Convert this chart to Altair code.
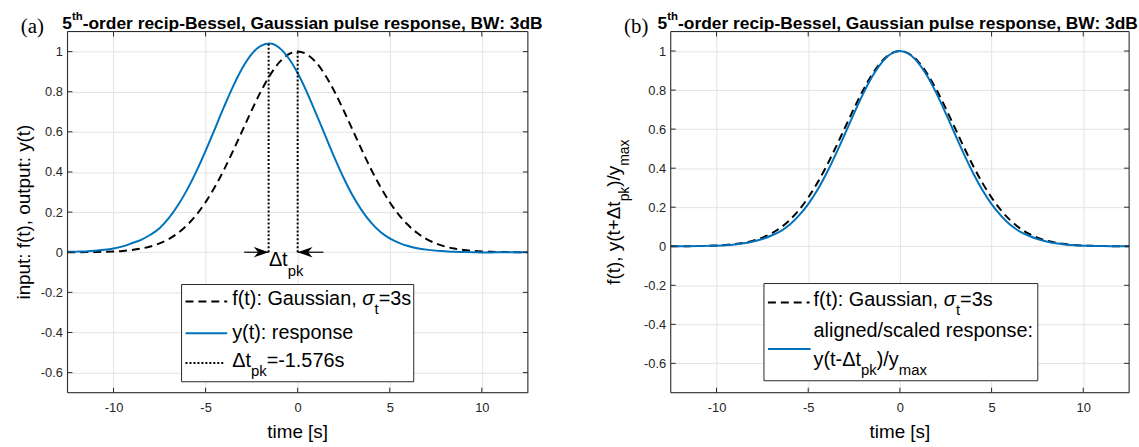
import altair as alt
import pandas as pd

# ---------------- data ----------------
time_s = [-12.5, -12.0, -11.5, -11.0, -10.5, -10.0, -9.5, -9.0, -8.5, -8.0, -7.5, -7.0, -6.5,
          -6.0, -5.5, -5.0, -4.5, -4.0, -3.5, -3.0, -2.5, -2.0, -1.5, -1.0, -0.5, 0.0,
          0.5, 1.0, 1.5, 2.0, 2.5, 3.0, 3.5, 4.0, 4.5, 5.0, 5.5, 6.0, 6.5, 7.0, 7.5,
          8.0, 8.5, 9.0, 9.5, 10.0, 10.5, 11.0, 11.5, 12.0, 12.5]

gauss_in = [0.0002, 0.0003, 0.0006, 0.0012, 0.0022, 0.0039, 0.0066, 0.0111, 0.0181, 0.0286,
            0.0439, 0.0657, 0.0956, 0.1353, 0.1863, 0.2494, 0.3247, 0.4111, 0.5063, 0.6065,
            0.7066, 0.8007, 0.8825, 0.9460, 0.9862, 1.0000, 0.9862, 0.9460, 0.8825, 0.8007,
            0.7066, 0.6065, 0.5063, 0.4111, 0.3247, 0.2494, 0.1863, 0.1353, 0.0956, 0.0657,
            0.0439, 0.0286, 0.0181, 0.0111, 0.0066, 0.0039, 0.0022, 0.0012, 0.0006, 0.0003, 0.0002]

response = [0.002, 0.003, 0.004, 0.007, 0.012, 0.019, 0.029, 0.045, 0.062, 0.087,
            0.120, 0.170, 0.234, 0.312, 0.403, 0.505, 0.614, 0.724, 0.828, 0.918,
            0.987, 1.029, 1.040, 1.019, 0.968, 0.893, 0.798, 0.691, 0.581, 0.472,
            0.370, 0.280, 0.206, 0.146, 0.101, 0.069, 0.047, 0.031, 0.020, 0.013,
            0.008, 0.005, 0.002, 0.001, 0.000, -0.001, -0.001, 0.000, 0.000, 0.000, 0.000]

aligned = [0.0002, 0.0003, 0.0005, 0.001, 0.002, 0.003, 0.005, 0.009, 0.015, 0.024,
           0.037, 0.055, 0.078, 0.111, 0.158, 0.216, 0.288, 0.374, 0.471, 0.575,
           0.681, 0.782, 0.871, 0.940, 0.985, 1.000, 0.985, 0.940, 0.871, 0.782,
           0.681, 0.575, 0.471, 0.374, 0.288, 0.216, 0.158, 0.111, 0.078, 0.055,
           0.037, 0.024, 0.015, 0.009, 0.005, 0.003, 0.002, 0.001, 0.0005, 0.0003, 0.0002]

dt_pk = -1.576          # response peak time
y_max = 1.04            # response peak value
marker_t = [dt_pk, 0.0]
marker_top = [y_max, 1.0]
arrow_tail = [-2.9, 1.4]
arrow_tip = [dt_pk, 0.0]

x_ticks = [-10, -5, 0, 5, 10]
y_ticks = [-0.6, -0.4, -0.2, 0, 0.2, 0.4, 0.6, 0.8, 1]
x_dom = [-12.5, 12.5]
y_dom_a = [-0.7, 1.1]
y_dom_b = [-0.75, 1.1]

TITLE = "-order recip-Bessel, Gaussian pulse response, BW: 3dB"

# ---------------- styling ----------------
BLUE = "#0072BD"
DARK = "#262626"
GRID = "#e3e3e3"
FONT = "Liberation Sans"
H = 364

W_REG = {' ': 278, '(': 333, ')': 333, '+': 584, ',': 278, '-': 333, '.': 278, '/': 278,
         ':': 278, '=': 584, '[': 278, ']': 278, 'G': 778, 'Δ': 668, 'σ': 617,
         'a': 556, 'b': 556, 'c': 500, 'd': 556, 'e': 556, 'f': 278, 'g': 556, 'h': 556,
         'i': 222, 'j': 222, 'k': 500, 'l': 222, 'm': 833, 'n': 556, 'o': 556, 'p': 556,
         'q': 556, 'r': 333, 's': 500, 't': 278, 'u': 556, 'v': 500, 'w': 722, 'x': 500,
         'y': 500, 'z': 500}
W_BOLD = {' ': 278, '-': 333, ',': 278, ':': 333, 'a': 556, 'c': 556, 'd': 611, 'e': 556,
          'h': 611, 'i': 278, 'l': 278, 'n': 611, 'o': 611, 'p': 611, 'r': 389, 's': 556,
          't': 333, 'u': 611, 'B': 722, 'G': 778, 'W': 944}


def tw(s, fs, bold=False):
    tab = W_BOLD if bold else W_REG
    return sum(tab.get(ch, 556) for ch in s) * fs / 1000.0


ONE = pd.DataFrame({'o': [0]})


def txt(text, x, y, fs, **kw):
    props = dict(text=text, fontSize=fs, align=kw.pop('align', 'left'),
                 baseline=kw.pop('baseline', 'alphabetic'), color=kw.pop('color', 'black'),
                 font=kw.pop('font', FONT))
    props.update(kw)
    return alt.Chart(ONE).mark_text(**props).encode(x=alt.value(x), y=alt.value(y))


def run(pieces, x, y, fs, sfs, sdy, sup=0, vertical=False, bold=False, center=False):
    total = sum(tw(p[0], fs if p[1] == 'n' else sfs, bold) for p in pieces)
    pos = -total / 2 if center else 0
    out = []
    for p in pieces:
        text, kind = p[0], p[1]
        size = fs if kind == 'n' else sfs
        off = 0 if kind == 'n' else (sdy if kind == 'sub' else -sup)
        kw = {}
        if len(p) > 2:
            kw['fontStyle'] = p[2]
        if bold:
            kw['fontWeight'] = 'bold'
        if vertical:
            out.append(txt(text, x + off, y - pos, size, angle=270, **kw))
        else:
            out.append(txt(text, x + pos, y + off, size, **kw))
        pos += tw(text, size, bold)
    return out


def anchor(x, y):
    return alt.Chart(ONE).mark_rect(opacity=0).encode(
        x=alt.value(x), x2=alt.value(x + 1), y=alt.value(y), y2=alt.value(y + 1))


LBL = "datum.value < 0 ? '-' + format(-datum.value, '') : format(datum.value, '')"


def make_axes(ydom):
    xs = alt.Scale(domain=x_dom, nice=False, zero=False)
    ys = alt.Scale(domain=ydom, nice=False, zero=False)
    ax_x = alt.Axis(values=x_ticks, title=None, grid=True, gridColor=GRID, gridWidth=1,
                    ticks=False, tickSize=0, domain=False, labelFontSize=13, labelFont=FONT,
                    labelColor=DARK, labelPadding=9, labelFlush=False, labelExpr=LBL)
    ax_y = alt.Axis(values=y_ticks, title=None, grid=True, gridColor=GRID, gridWidth=1,
                    ticks=False, tickSize=0, domain=False, labelFontSize=13, labelFont=FONT,
                    labelColor=DARK, labelPadding=5, labelExpr=LBL)

    def X(field):
        return alt.X(field, scale=xs, axis=ax_x)

    def Y(field):
        return alt.Y(field, scale=ys, axis=ax_y)
    return X, Y


def panel(W, ydom, blue_vals, letter, xoff_left, xoff_right, ytitle_layers, legend_layers,
          extra, title_shift):
    X, Y = make_axes(ydom)
    df = pd.DataFrame({'t': time_s, 'f': gauss_in, 'y': blue_vals})
    gauss = alt.Chart(df).mark_line(color='black', strokeWidth=2, strokeDash=[8, 5],
                                    interpolate='monotone').encode(x=X('t:Q'), y=Y('f:Q'))
    resp = alt.Chart(df).mark_line(color=BLUE, strokeWidth=2, interpolate='monotone').encode(
        x=X('t:Q'), y=Y('y:Q'))

    frame = alt.Chart(ONE).mark_rect(fillOpacity=0, stroke=DARK, strokeWidth=1).encode(
        x=alt.value(0), x2=alt.value(W), y=alt.value(0), y2=alt.value(H))
    xt = pd.DataFrame({'v': x_ticks})
    yt = pd.DataFrame({'v': y_ticks})
    ticks = [
        alt.Chart(xt).mark_rule(color=DARK, strokeWidth=1).encode(
            x=X('v:Q'), y=alt.value(H), y2=alt.value(H - 5)),
        alt.Chart(xt).mark_rule(color=DARK, strokeWidth=1).encode(
            x=X('v:Q'), y=alt.value(0), y2=alt.value(5)),
        alt.Chart(yt).mark_rule(color=DARK, strokeWidth=1).encode(
            y=Y('v:Q'), x=alt.value(0), x2=alt.value(5)),
        alt.Chart(yt).mark_rule(color=DARK, strokeWidth=1).encode(
            y=Y('v:Q'), x=alt.value(W), x2=alt.value(W - 5)),
    ]
    titles = run([("5", 'n'), ("th", 'sup'), (TITLE, 'n')], W / 2 + title_shift, -3, 17.5, 11.5, 0,
                 sup=9, bold=True, center=True)
    lab = txt(letter, -47, 1, 21, font="Liberation Serif", color='black')
    xtitle = txt("time [s]", W / 2, 410, 19, align='center', color='black')
    anchors = [anchor(xoff_left, -29), anchor(xoff_right, -29), anchor(xoff_left, 417)]
    layers = [gauss, resp] + extra(X, Y) + legend_layers + [frame] + ticks + titles + \
        [lab, xtitle] + ytitle_layers + anchors
    return alt.layer(*layers).properties(width=W, height=H)


def extra_a(X, Y):
    mk = pd.DataFrame({'t': marker_t, 'top': marker_top, 'z': [0, 0]})
    ar = pd.DataFrame({'tail': arrow_tail, 'tip': arrow_tip, 'z': [0, 0]})
    dots = alt.Chart(mk).mark_rule(color='black', strokeWidth=2, strokeDash=[2, 2]).encode(
        x=X('t:Q'), y=Y('z:Q'), y2='top:Q')
    lines = alt.Chart(ar).mark_rule(color='black', strokeWidth=1.2).encode(
        x=X('tail:Q'), x2='tip:Q', y=Y('z:Q'))
    right_head = alt.Chart(ar.iloc[[0]]).mark_point(
        shape="M0,0 L-2,-0.7 L-1.4,0 L-2,0.7 Z", filled=True, size=225, color='black',
        opacity=1, strokeWidth=0).encode(x=X('tip:Q'), y=Y('z:Q'))
    left_head = alt.Chart(ar.iloc[[1]]).mark_point(
        shape="M0,0 L2,-0.7 L1.4,0 L2,0.7 Z", filled=True, size=225, color='black',
        opacity=1, strokeWidth=0).encode(x=X('tip:Q'), y=Y('z:Q'))
    lbl = run([("Δt", 'n'), ("pk", 'sub')], 203, 236, 20, 15, 10)
    return [dots, lines, right_head, left_head] + lbl


def extra_b(X, Y):
    return []


def legend_box(x0, x1, y0, y1):
    return alt.Chart(ONE).mark_rect(fill='white', stroke=DARK, strokeWidth=1).encode(
        x=alt.value(x0), x2=alt.value(x1), y=alt.value(y0), y2=alt.value(y1))


def sample(x0, x1, y, color, dash=None):
    kw = dict(color=color, strokeWidth=2)
    if dash:
        kw['strokeDash'] = dash
    return alt.Chart(ONE).mark_rule(**kw).encode(
        x=alt.value(x0), x2=alt.value(x1), y=alt.value(y))


WA, WB = 464, 462

leg_a = [legend_box(115, 349, 255, 353),
         sample(119, 161, 272, 'black', [8, 5]),
         sample(119, 161, 304, BLUE),
         sample(119, 159, 334, 'black', [2, 2])]
leg_a += run([("f(t): Gaussian, ", 'n'), ("σ", 'n', 'italic'), ("t", 'sub'), ("=3s", 'n')],
             166, 276, 20, 15, 9)
leg_a += run([("y(t): response", 'n')], 166, 310, 20, 15, 9)
leg_a += run([("Δt", 'n'), ("pk", 'sub'), ("=-1.576s", 'n')], 166, 338, 20, 15, 9)

leg_b = [legend_box(94, 370, 254, 352),
         sample(98, 140, 273, 'black', [8, 5]),
         sample(98, 141, 320, BLUE)]
leg_b += run([("f(t): Gaussian, ", 'n'), ("σ", 'n', 'italic'), ("t", 'sub'), ("=3s", 'n')],
             144, 277, 20, 15, 9)
leg_b += run([("aligned/scaled response:", 'n')], 144, 308, 20, 15, 9)
leg_b += run([("y(t-Δt", 'n'), ("pk", 'sub'), (")/y", 'n'), ("max", 'sub')], 144, 337, 20, 15, 9)

yt_a = [txt("input: f(t), output: y(t)", -38, H / 2, 19, align='center', angle=270, color='black')]
yt_b = run([("f(t), y(t+Δt", 'n'), ("pk", 'sub'), (")/y", 'n'), ("max", 'sub')],
           -51, H / 2, 19, 14, 9, vertical=True, center=True)

left = panel(WA, y_dom_a, response, "(a)", -67, 508, yt_a, leg_a, extra_a, 5)
right = panel(WB, y_dom_b, aligned, "(b)", -87, 466, yt_b, leg_b, extra_b, -2)

chart = alt.hconcat(left, right, spacing=10).properties(padding=0).configure_view(
    stroke=None).configure(font=FONT)

chart.save("out.html", embed_options={"renderer": "svg", "actions": False})
